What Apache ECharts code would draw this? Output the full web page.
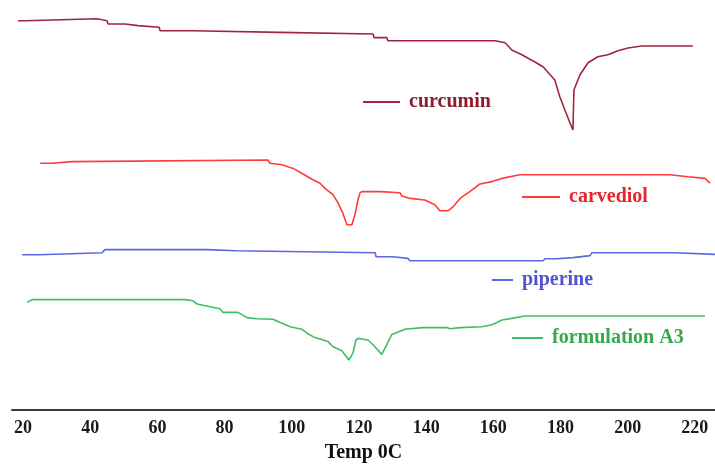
<!DOCTYPE html>
<html>
<head>
<meta charset="utf-8">
<script src="https://cdn.jsdelivr.net/npm/echarts@6/dist/echarts.min.js"></script>
<style>
  html, body { margin: 0; padding: 0; background: #fff; }
  #chart { width: 715px; height: 464px; }
</style>
</head>
<body>
<div id="chart"></div>
<script>
// DSC thermograms, [temperature °C, heat flow (a.u., offset per sample)]
var tempTicks = [20, 40, 60, 80, 100, 120, 140, 160, 180, 200, 220]

var curcumin = [
  [18.5, 97.3], [20.9, 97.3], [21.2, 97.8], [42.0, 97.8], [42.3, 97.3], [45.0, 97.3],
  [45.3, 96.5], [50.4, 96.5], [50.7, 96.1], [54.2, 96.1], [54.5, 95.7], [60.5, 95.7],
  [60.8, 94.8], [70.6, 94.8], [70.9, 94.4], [96.5, 94.4], [96.8, 94.0], [124.2, 94.0],
  [124.5, 93.1], [128.3, 93.1], [128.6, 92.3], [160.5, 92.3], [163.5, 91.8], [165.5, 90.0],
  [168.5, 88.8], [172.4, 87.0], [174.8, 85.8], [178.3, 82.5], [179.8, 78.3], [181.3, 75.0],
  [182.8, 71.8], [183.7, 70.0], [184.0, 80.0], [185.8, 83.8], [188.2, 86.8], [191.1, 88.3],
  [194.1, 88.8], [197.1, 89.8], [200.1, 90.5], [204.2, 91.0], [219.4, 91.0]
]

var carvediol = [
  [25.1, 61.7], [28.6, 61.7], [28.9, 62.1], [34.6, 62.1], [34.9, 62.5], [92.9, 62.5],
  [93.5, 61.7], [97.1, 61.3], [100.4, 60.4], [103.0, 59.2], [106.0, 57.7], [108.4, 56.7],
  [109.9, 55.4], [112.3, 53.8], [113.8, 51.7], [115.2, 49.2], [116.4, 46.3], [117.9, 46.3],
  [118.8, 48.8], [119.7, 52.5], [120.3, 54.3], [120.9, 54.6], [126.3, 54.6], [126.5, 54.3],
  [132.2, 54.3], [132.8, 53.5], [135.2, 52.9], [139.6, 52.5], [142.6, 51.3], [144.1, 49.8],
  [146.5, 49.8], [148.0, 50.8], [150.1, 52.9], [153.0, 54.6], [156.0, 56.5], [159.6, 57.1],
  [162.6, 57.9], [162.9, 58.4], [167.9, 58.8], [212.6, 58.8], [212.9, 58.3], [217.9, 58.3],
  [218.2, 57.9], [223.0, 57.9], [224.5, 56.7]
]

var piperine = [
  [19.7, 38.8], [24.8, 38.8], [25.1, 39.3], [43.5, 39.3], [44.4, 40.1], [74.8, 40.1],
  [75.1, 39.8], [83.4, 39.8], [83.7, 39.3], [124.8, 39.3], [125.1, 38.3], [130.1, 38.3],
  [130.4, 37.9], [134.6, 37.9], [135.2, 37.3], [174.8, 37.3], [175.4, 37.8], [178.9, 37.8],
  [179.2, 38.1], [183.7, 38.1], [184.0, 38.6], [188.8, 38.6], [189.3, 39.3], [214.0, 39.3],
  [214.3, 38.9], [226.0, 38.9]
]

var formulationA3 = [
  [21.2, 26.9], [22.7, 27.6], [68.2, 27.6], [70.6, 27.3], [71.8, 26.5], [75.7, 25.8],
  [78.6, 25.3], [79.5, 24.4], [84.0, 24.4], [86.7, 23.1], [89.6, 22.8], [94.4, 22.7],
  [97.1, 21.7], [99.5, 20.8], [103.0, 20.2], [104.5, 19.2], [106.9, 18.1], [110.8, 17.1],
  [112.3, 15.8], [114.9, 14.8], [117.0, 12.5], [118.2, 14.2], [119.1, 17.5], [119.7, 17.9],
  [122.7, 17.5], [124.2, 16.3], [126.8, 13.9], [127.7, 15.4], [129.8, 18.9], [133.7, 20.2],
  [139.0, 20.6], [146.2, 20.6], [147.1, 20.3], [150.1, 20.6], [156.6, 20.8], [159.6, 21.3],
  [162.6, 22.5], [165.5, 22.9], [169.4, 23.5], [223.0, 23.5]
]

var names = ['curcumin', 'carvediol', 'piperine', 'formulation A3']
var lineColors = ['#a0263b', '#ff3b3b', '#5c68e2', '#3fbf64']
var textColors = ['#8c1e30', '#e6262c', '#5252d4', '#36a94f']

var serif = '"Liberation Serif", "Times New Roman", serif'

function makeLegend (i, left, top, width) {
  return {
    data: [names[i]],
    left: left,
    top: top,
    orient: 'horizontal',
    icon: 'rect',
    itemWidth: width,
    itemHeight: 2,
    padding: 0,
    selectedMode: false,
    textStyle: {
      color: textColors[i],
      fontFamily: serif,
      fontWeight: 'bold',
      fontSize: 20,
      padding: [0, 0, 0, 4]
    }
  }
}

var option = {
  animation: false,
  backgroundColor: '#fff',
  grid: { left: 12, right: 0, top: 10, bottom: 54, containLabel: false, outerBoundsMode: 'none' },
  legend: [
    makeLegend(0, 363, 92, 37),
    makeLegend(1, 522, 187, 38),
    makeLegend(2, 492, 270, 21),
    makeLegend(3, 512, 328, 31)
  ],
  xAxis: {
    type: 'value',
    min: 16.7,
    max: 226,
    name: 'Temp 0C',
    nameLocation: 'middle',
    nameGap: 33,
    nameTextStyle: { color: '#111', fontFamily: serif, fontWeight: 'bold', fontSize: 20 },
    axisLine: { show: true, lineStyle: { color: '#3a3a3a', width: 2 } },
    axisTick: { show: false },
    splitLine: { show: false },
    axisLabel: {
      customValues: tempTicks,
      margin: 9,
      color: '#1a1a1a',
      fontFamily: serif,
      fontWeight: 'bold',
      fontSize: 18
    }
  },
  yAxis: {
    type: 'value',
    min: 0,
    max: 100,
    show: false
  },
  series: [curcumin, carvediol, piperine, formulationA3].map(function (d, i) {
    return {
      name: names[i],
      type: 'line',
      data: d,
      symbol: 'none',
      color: lineColors[i],
      lineStyle: { width: 1.6, color: lineColors[i] }
    }
  })
}

var chart = echarts.init(document.getElementById('chart'))
chart.setOption(option)
</script>
</body>
</html>
